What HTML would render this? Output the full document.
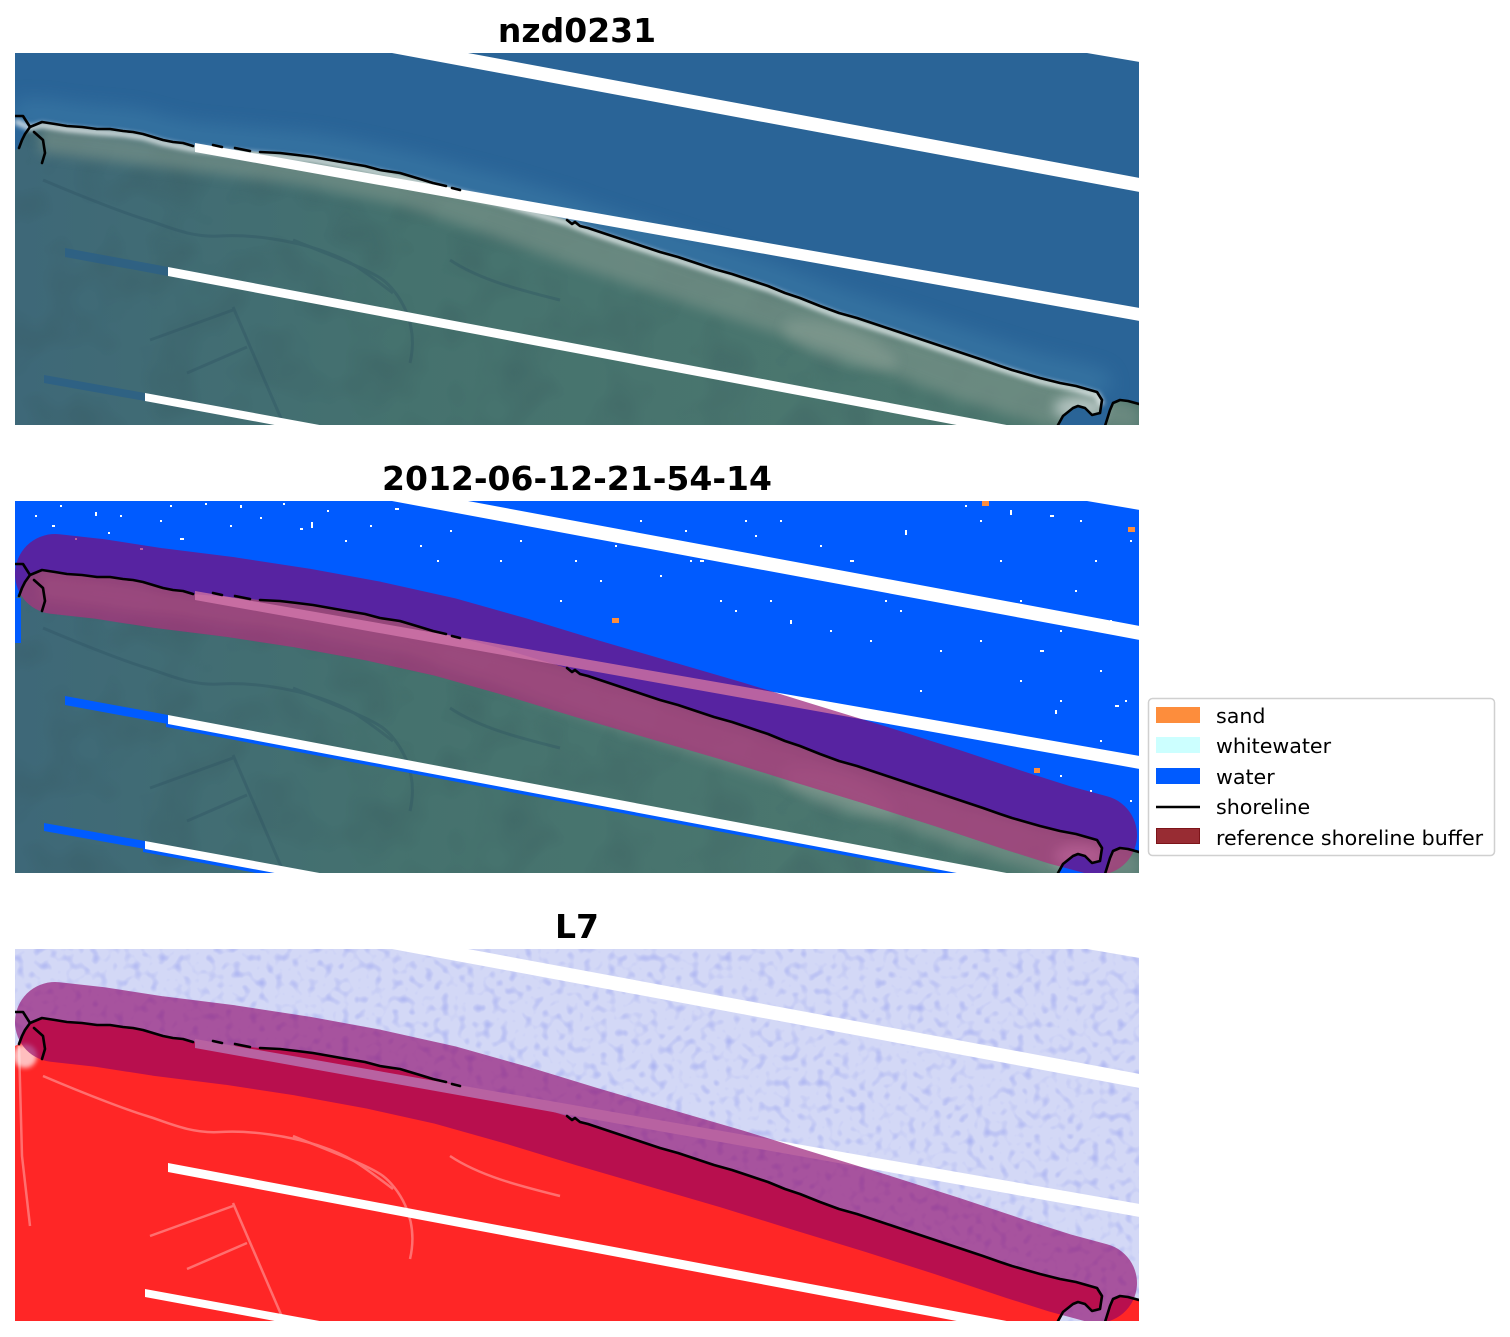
<!DOCTYPE html>
<html>
<head>
<meta charset="utf-8">
<style>
  html, body { margin: 0; padding: 0; background: #ffffff; }
  svg { display: block; }
  .title { font-family: "DejaVu Sans", "Liberation Sans", sans-serif; font-weight: bold; font-size: 33px; fill: #000; }
  .leg { font-family: "DejaVu Sans", "Liberation Sans", sans-serif; font-size: 20.6px; fill: #000; }
</style>
</head>
<body>
<svg width="1510" height="1337" viewBox="0 0 1510 1337" xmlns="http://www.w3.org/2000/svg" xmlns:xlink="http://www.w3.org/1999/xlink">
  <defs>
    <clipPath id="pc"><rect x="15" y="53" width="1124" height="372"/></clipPath>

    <path id="land" d="M15,150 L19,148 L22,140 L30,127 L42,122 L67,126 L97,129 L123,131 L143,134 L163,140 L193,146 L260,152 L313,157 L347,163 L380,170 L420,179 L460,190 L500,200 L540,212 L567,220 L588,228 L624,240 L696,263 L768,286 L839,313 L911,336 L983,360 L1040,378 L1076,386 L1097,392 L1102,400 L1100,413 L1092,415 L1083,407 L1073,408 L1062,418 L1056,427 L15,427 Z M1105,427 L1112,403 L1120,400 L1128,401 L1140,403 L1140,427 Z"/>
    <clipPath id="landclip"><use xlink:href="#land" href="#land"/></clipPath>

    <path id="coast" d="M15,118 L30,125 L42,122 L67,126 L97,129 L123,131 L143,134 L163,140 L193,146 L260,152 L313,157 L347,163 L380,170 L420,179 L460,190 L500,200 L540,212 L567,220 L588,228 L624,240 L696,263 L768,286 L839,313 L911,336 L983,360 L1040,378 L1076,386 L1097,392 L1102,402"/>

    <path id="shore" fill="none" stroke="#000" stroke-width="2.6" stroke-linejoin="round" stroke-linecap="round"
      d="M15,116 L23,116 L30,127 L42,122 L55,124 L67,126 L82,127 L97,129 L110,129 L123,131 L133,132 L143,134 L153,137 L163,140 L173,142 L183,143 L193,146
         M213,145 L222,147 M235,148 L250,151
         M260,152 L280,153 L297,155 L313,157 L330,160 L347,163 L365,166 L380,170 L400,173 L420,179 L433,183 L446,186 M452,188 L460,190
         M567,220 L572,224 L575,222 L580,226 L588,228 L606,234 L624,240 L642,246 L660,252 L678,257 L696,263 L714,269 L732,274 L750,280 L768,286 L785,293 L800,298 L820,306 L839,313 L857,318 L875,324 L893,330 L911,336 L929,342 L947,348 L965,354 L983,360 L1000,366 L1012,370 L1026,374 L1040,378 L1060,383 L1076,386 L1090,390 L1097,392 L1102,400 L1100,413 L1092,415 L1085,408 L1078,406 L1073,408 L1063,416 L1058,425
         M1105,426 L1110,410 L1113,403 L1120,400 L1128,401 L1139,404
         M30,127 L25,134 L22,140 L19,148
         M34,132 L43,140 L45,153 L42,163"/>

    <g id="stripes" fill="#ffffff">
      <polygon points="1087,53 1140,53 1140,62"/>
      <polygon points="392,53 468,53 1140,178 1140,192"/>
      <polygon points="195,143 1140,308 1140,321 195,152"/>
      <polygon id="s3" points="168,267 1012,426 962,426 168,276"/>
      <polygon id="s4" points="145,393 325,426 280,426 145,401"/>
    </g>
    <g id="ext">
      <polygon points="65,248 168,267 168,276 65,257"/>
      <polygon points="44,375 145,393 145,401 44,383"/>
    </g>

    <path id="buf" fill="none" d="M55,126 L100,131 L158,140 L230,149 L302,160 L373,173 L445,189 L516,209 L588,231 L660,252 L732,273 L803,295 L875,317 L947,340 L1019,364 L1060,377 L1097,387"/>

    <linearGradient id="lgrad" x1="0" y1="0" x2="1" y2="0">
      <stop offset="0" stop-color="#3e6878"/>
      <stop offset="0.35" stop-color="#45726e"/>
      <stop offset="1" stop-color="#4e796f"/>
    </linearGradient>

    <filter id="mottle" x="0" y="0" width="100%" height="100%" color-interpolation-filters="sRGB">
      <feTurbulence type="fractalNoise" baseFrequency="0.02" numOctaves="2" seed="9"/>
      <feColorMatrix type="matrix" values="0 0 0 0 0.2  0 0 0 0 0.32  0 0 0 0 0.34  2 0 0 0 -0.9"/>
    </filter>
    <filter id="wnoise" x="0" y="0" width="100%" height="100%" color-interpolation-filters="sRGB">
      <feTurbulence type="fractalNoise" baseFrequency="0.12" numOctaves="1" seed="4"/>
      <feColorMatrix type="matrix" values="0 0 0 0 0.45  0 0 0 0 0.5  0 0 0 0 0.92  3 0 0 0 -1.55"/>
    </filter>
    <filter id="blur6" x="-20%" y="-20%" width="140%" height="140%"><feGaussianBlur stdDeviation="6"/></filter>
    <filter id="blur3" x="-20%" y="-20%" width="140%" height="140%"><feGaussianBlur stdDeviation="2.5"/></filter>
    <filter id="blur10" x="-20%" y="-50%" width="140%" height="200%"><feGaussianBlur stdDeviation="9"/></filter>

    <g id="landimg">
      <rect x="15" y="53" width="1125" height="373" fill="url(#lgrad)"/>
      <rect x="15" y="53" width="1125" height="373" filter="url(#mottle)" opacity="0.3"/>
      <polygon filter="url(#blur6)" fill="#7f968c" opacity="0.6"
        points="40,124 100,131 193,148 313,159 420,181 500,202 567,222 700,266 839,315 983,362 1097,394 1140,405 1140,430 1060,430 960,400 840,355 700,308 580,268 480,232 400,205 300,185 200,172 100,160 40,152"/>
      <ellipse cx="840" cy="345" rx="60" ry="18" fill="#a3b2a6" opacity="0.3" filter="url(#blur6)" transform="rotate(18 840 345)"/>
      <ellipse cx="1080" cy="408" rx="26" ry="12" fill="#d8e0e0" opacity="0.65" filter="url(#blur6)"/>
      <g fill="none" stroke="#2c5060" stroke-width="3" opacity="0.35">
        <path d="M43,180 C90,200 130,215 147,220 S190,238 220,236 S290,240 320,250 S360,268 393,293"/>
        <path d="M150,340 L233,310"/>
        <path d="M187,373 L247,347"/>
        <path d="M233,307 L283,423"/>
        <path d="M293,240 C330,255 370,270 383,280 S420,320 410,363"/>
        <path d="M450,260 C480,280 520,290 560,300"/>
      </g>
    </g>
  </defs>

  <!-- Titles -->
  <text class="title" x="577" y="42" text-anchor="middle">nzd0231</text>
  <text class="title" x="577" y="490" text-anchor="middle">2012-06-12-21-54-14</text>
  <text class="title" x="577" y="938" text-anchor="middle">L7</text>

  <!-- Panel 1 -->
  <g>
    <g clip-path="url(#pc)">
      <rect x="15" y="53" width="1124" height="372" fill="#2a6497"/>
      <use href="#coast" xlink:href="#coast" fill="none" stroke="#3f80aa" stroke-width="26" opacity="0.5" filter="url(#blur10)" transform="translate(0,-10)"/>
      <use href="#landimg" xlink:href="#landimg" clip-path="url(#landclip)"/>
      <use href="#coast" xlink:href="#coast" fill="none" stroke="#f4f8fa" stroke-width="6" opacity="0.75" filter="url(#blur3)" transform="translate(0,3)"/>
      <use href="#ext" xlink:href="#ext" fill="#2a5f88" opacity="0.75"/>
      <use href="#stripes" xlink:href="#stripes"/>
      <use href="#shore" xlink:href="#shore"/>
    </g>
  </g>

  <!-- Panel 2 -->
  <g transform="translate(0,448)">
    <g clip-path="url(#pc)">
      <rect x="15" y="53" width="1124" height="372" fill="#005bff"/>
      <g transform="translate(0,-448)" fill="#ffffff">
        <rect x="35" y="515" width="2" height="2"/><rect x="52" y="525" width="3" height="2"/><rect x="75" y="538" width="2" height="2"/>
        <rect x="95" y="512" width="2" height="4"/><rect x="108" y="532" width="2" height="2"/><rect x="140" y="548" width="3" height="2"/>
        <rect x="160" y="520" width="2" height="2"/><rect x="180" y="538" width="4" height="2"/><rect x="205" y="503" width="2" height="2"/>
        <rect x="230" y="525" width="2" height="2"/><rect x="240" y="505" width="2" height="3"/><rect x="260" y="517" width="2" height="2"/>
        <rect x="283" y="503" width="2" height="2"/><rect x="300" y="528" width="3" height="2"/><rect x="311" y="522" width="2" height="6"/>
        <rect x="327" y="510" width="2" height="2"/><rect x="345" y="540" width="2" height="2"/><rect x="370" y="525" width="2" height="2"/>
        <rect x="395" y="508" width="4" height="2"/><rect x="420" y="545" width="2" height="2"/><rect x="437" y="560" width="2" height="2"/>
        <rect x="450" y="530" width="2" height="2"/><rect x="480" y="515" width="2" height="2"/><rect x="500" y="560" width="2" height="2"/>
        <rect x="520" y="540" width="2" height="2"/><rect x="545" y="525" width="3" height="2"/><rect x="560" y="600" width="2" height="2"/>
        <rect x="575" y="560" width="2" height="2"/><rect x="600" y="580" width="2" height="2"/><rect x="615" y="545" width="2" height="2"/>
        <rect x="640" y="520" width="2" height="2"/><rect x="660" y="575" width="2" height="2"/><rect x="685" y="530" width="2" height="2"/>
        <rect x="700" y="560" width="4" height="2"/><rect x="720" y="600" width="2" height="2"/><rect x="745" y="520" width="2" height="2"/>
        <rect x="755" y="535" width="2" height="2"/><rect x="770" y="600" width="2" height="2"/><rect x="790" y="620" width="2" height="4"/>
        <rect x="810" y="575" width="2" height="2"/><rect x="830" y="630" width="2" height="2"/><rect x="850" y="560" width="4" height="2"/>
        <rect x="870" y="640" width="2" height="2"/><rect x="885" y="600" width="2" height="2"/><rect x="905" y="530" width="2" height="5"/>
        <rect x="920" y="690" width="2" height="2"/><rect x="940" y="650" width="2" height="2"/><rect x="960" y="600" width="2" height="2"/>
        <rect x="980" y="520" width="2" height="2"/><rect x="1000" y="560" width="2" height="2"/><rect x="1020" y="680" width="2" height="2"/>
        <rect x="1040" y="650" width="4" height="2"/><rect x="1060" y="700" width="2" height="2"/><rect x="1075" y="590" width="2" height="2"/>
        <rect x="1095" y="560" width="2" height="2"/><rect x="1110" y="620" width="2" height="2"/><rect x="1125" y="700" width="2" height="2"/>
        <rect x="1130" y="540" width="2" height="2"/><rect x="965" y="505" width="2" height="2"/><rect x="1010" y="510" width="2" height="5"/>
        <rect x="1050" y="515" width="4" height="2"/><rect x="1080" y="520" width="2" height="2"/><rect x="1100" y="740" width="2" height="2"/>
        <rect x="1120" y="760" width="2" height="2"/><rect x="1060" y="775" width="2" height="2"/><rect x="1000" y="740" width="2" height="2"/>
        <rect x="1090" y="790" width="2" height="2"/><rect x="1130" y="800" width="2" height="2"/><rect x="690" y="560" width="2" height="2"/>
        <rect x="735" y="610" width="2" height="2"/><rect x="780" y="520" width="2" height="2"/><rect x="820" y="545" width="2" height="2"/>
        <rect x="860" y="580" width="2" height="2"/><rect x="900" y="610" width="2" height="2"/><rect x="940" y="590" width="2" height="2"/>
        <rect x="980" y="640" width="2" height="2"/><rect x="1020" y="600" width="2" height="2"/><rect x="1060" y="630" width="2" height="2"/>
        <rect x="1100" y="670" width="2" height="2"/><rect x="170" y="505" width="2" height="2"/><rect x="120" y="515" width="2" height="2"/>
        <rect x="60" y="505" width="2" height="2"/><rect x="1055" y="710" width="2" height="4"/><rect x="1115" y="705" width="4" height="2"/>
      </g>
      <g transform="translate(0,-448)" fill="#fd8d3c">
        <rect x="982" y="501" width="7" height="5"/>
        <rect x="1128" y="527" width="7" height="5"/>
        <rect x="612" y="618" width="7" height="5"/>
        <rect x="1034" y="768" width="6" height="5"/>
      </g>
      <use href="#landimg" xlink:href="#landimg" clip-path="url(#landclip)"/>
      <rect x="15" y="150" width="6" height="45" fill="#005bff"/>
      <use href="#s3" xlink:href="#s3" fill="#005bff" transform="translate(-2,3)"/>
      <use href="#s4" xlink:href="#s4" fill="#005bff" transform="translate(-2,3)"/>
      <use href="#ext" xlink:href="#ext" fill="#005bff"/>
      <use href="#stripes" xlink:href="#stripes"/>
      <use href="#buf" xlink:href="#buf" stroke="rgb(141,1,103)" stroke-opacity="0.62" stroke-width="80" stroke-linecap="round" stroke-linejoin="round"/>
      <g clip-path="url(#landclip)">
        <use href="#buf" xlink:href="#buf" stroke="rgb(255,150,170)" stroke-opacity="0.22" stroke-width="80" stroke-linecap="round" stroke-linejoin="round"/>
      </g>
      <use href="#shore" xlink:href="#shore"/>
    </g>
  </g>

  <!-- Panel 3 -->
  <g transform="translate(0,896)">
    <g clip-path="url(#pc)">
      <rect x="15" y="53" width="1124" height="372" fill="#d3d8f6"/>
      <rect x="15" y="53" width="1124" height="372" filter="url(#wnoise)" opacity="0.4"/>
      <g clip-path="url(#landclip)">
        <rect x="15" y="53" width="1125" height="373" fill="#ff2626"/>
        <g fill="none" stroke="#ffb8b8" stroke-width="2.5" opacity="0.5">
          <path d="M43,180 C90,200 130,215 147,220 S190,238 220,236 S290,240 320,250 S360,268 393,293"/>
          <path d="M150,340 L233,310"/>
          <path d="M187,373 L247,347"/>
          <path d="M233,307 L283,423"/>
          <path d="M293,240 C330,255 370,270 383,280 S420,320 410,363"/>
          <path d="M19,150 L22,260 L30,330"/>
          <path d="M450,260 C480,280 520,290 560,300"/>
        </g>
        <ellipse cx="25" cy="160" rx="12" ry="12" fill="#ffffff" opacity="0.7" filter="url(#blur3)"/>
      </g>
      <use href="#stripes" xlink:href="#stripes"/>
      <use href="#buf" xlink:href="#buf" stroke="rgb(141,1,103)" stroke-opacity="0.62" stroke-width="80" stroke-linecap="round" stroke-linejoin="round"/>
      <use href="#shore" xlink:href="#shore"/>
    </g>
  </g>

  <!-- Legend -->
  <rect x="1148.5" y="698.5" width="346" height="157" rx="4" ry="4" fill="#ffffff" fill-opacity="0.85" stroke="#d0d0d0" stroke-width="1.5"/>
  <rect x="1156" y="707" width="44" height="16" fill="#fd8d3c"/>
  <text class="leg" x="1216" y="723">sand</text>
  <rect x="1156" y="737" width="44" height="16" fill="#ccffff"/>
  <text class="leg" x="1216" y="753">whitewater</text>
  <rect x="1156" y="768" width="44" height="16" fill="#005bff"/>
  <text class="leg" x="1216" y="784">water</text>
  <line x1="1156" y1="807" x2="1200" y2="807" stroke="#000" stroke-width="2.6"/>
  <text class="leg" x="1216" y="814">shoreline</text>
  <rect x="1156.5" y="828.5" width="43" height="15" fill="#982c33" stroke="#7c1419" stroke-width="1"/>
  <text class="leg" x="1216" y="845">reference shoreline buffer</text>
</svg>
</body>
</html>
